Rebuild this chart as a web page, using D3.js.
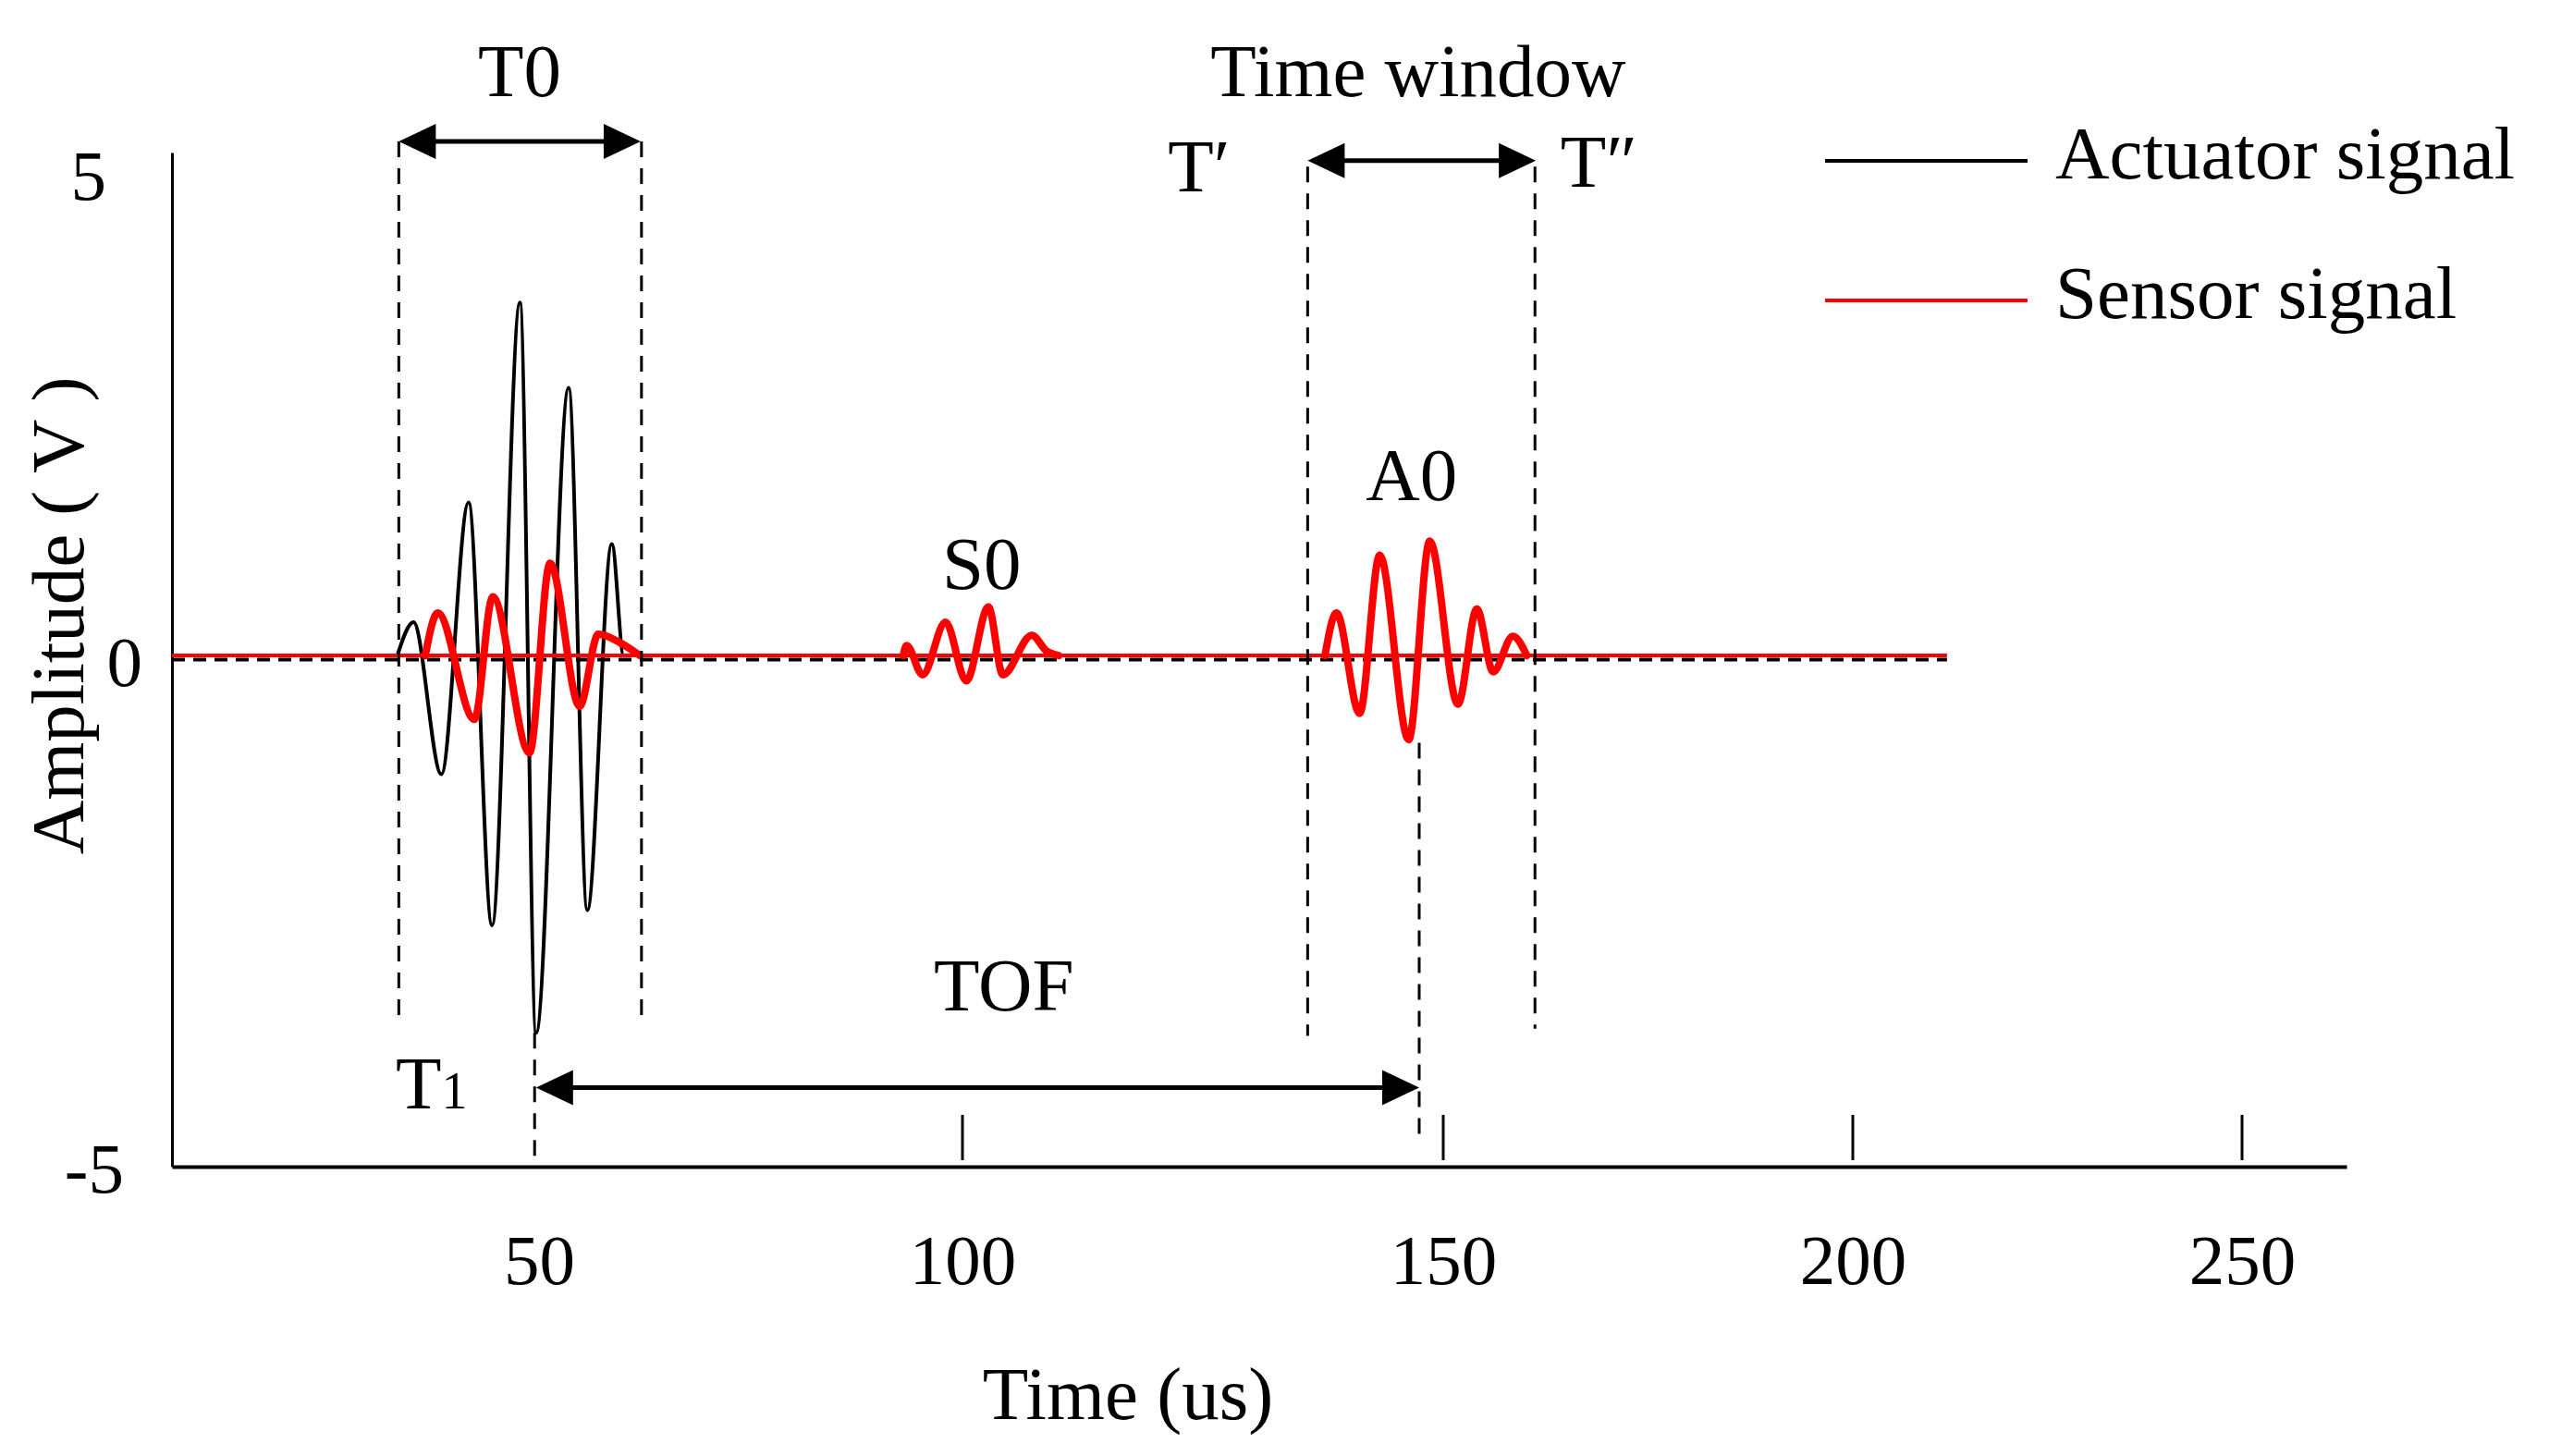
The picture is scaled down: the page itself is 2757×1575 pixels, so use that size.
<!DOCTYPE html>
<html>
<head>
<meta charset="utf-8">
<script src="https://cdn.jsdelivr.net/npm/d3@7"></script>
<style>
  body { margin: 0; background: #fff; }
  svg text { font-family: "Liberation Serif", "Times New Roman", serif; fill: #000; }
</style>
</head>
<body>
<script>
// Values: time in us, amplitude in V

const timeTicks = [50, 100, 150, 200, 250];
const timeTickMarks = [100, 150, 200, 250];   // no tick mark drawn at 50
const ampTicks = [-5, 0, 5];

// actuator: dashed zero line + the tone burst (extrema)
const actuatorBaseline = [[0, 0], [212.1, 0]];
const actuatorBurst = [
  [30.7, 0.04], [32.9, 0.37], [36.7, -1.13], [40.4, 1.55], [43.6, -2.62],
  [47.4, 3.52], [49.6, -3.68], [53.5, 2.68], [55.7, -2.47], [58.6, 1.14],
  [60.0, 0.04], [61.9, 0.04]
];

// sensor: thin baseline + three wave packets
const sensorBaseline = [[0, 0.04], [212.1, 0.04]];
const sensorDirect = [
  [34.5, 0.04], [36.2, 0.46], [41.2, -0.59], [43.7, 0.62], [48.7, -0.92],
  [51.3, 0.95], [54.8, -0.46], [57.0, 0.25], [59.5, 0.17], [61.9, 0.04]
];
const sensorS0 = [
  [93.0, 0.04], [93.4, 0.14], [95.3, -0.15], [98.0, 0.37], [100.4, -0.21],
  [102.7, 0.52], [104.2, -0.15], [107.2, 0.24], [108.8, 0.08], [110.0, 0.04]
];
const sensorA0 = [
  [137.7, 0.04], [138.9, 0.46], [141.3, -0.53], [143.4, 1.03], [146.4, -0.79],
  [148.6, 1.17], [151.8, -0.44], [154.1, 0.50], [156.1, -0.12], [158.5, 0.23],
  [160.2, 0.04]
];

// dashed time markers (t, from amplitude, to amplitude)
const markerTimes = [30.9, 62.1, 49.4, 135.9, 147.5, 161.2];
const markerTops = [5.11, 5.11, -3.68, 4.86, -0.82, 4.86];
const markerBottoms = [-3.55, -3.55, -4.94, -3.71, -4.78, -3.64];

// double arrows: T0, time window, TOF
const spanStarts = [30.9, 135.9, 49.6];
const spanEnds = [62.0, 161.3, 147.5];
const spanLevels = [5.11, 4.92, -4.22];

// annotation texts
const noteTexts = ['T0', 'Time window', 'T\u2032', 'T\u2033', 'S0', 'A0', 'TOF'];
const noteTimes = [47.35, 147.4, 124.6, 169.0, 102.0, 146.7, 104.3];
const noteAmps = [5.56, 5.56, 4.62, 4.66, 0.70, 1.57, -3.46];

const legendLabels = ['Actuator signal', 'Sensor signal'];
const legendColors = ['#000000', '#ff0000'];

// ---- layout ----
const width = 2757, height = 1575;
// the time axis of the figure is not evenly spaced, so the scale is piecewise
const timeKnots = [0, 50, 100, 150, 200, 250, 263];
const knotPx = [186, 583, 1041, 1561, 2004, 2425, 2538];
const labelSize = 81, tickSize = 77;

const svg = d3.select('body')
  .append('svg')
  .attr('width', width)
  .attr('height', height)
  .style('background', '#fff');

const x = d3.scaleLinear().domain(timeKnots).range(knotPx);
const y = d3.scaleLinear().domain([-5, 5]).range([1262, 165]);

// axes
const xAxis = svg.append('g')
  .attr('transform', `translate(0,${y(-5)})`)
  .call(d3.axisBottom(x).tickValues(timeTicks).tickSize(0).tickPadding(72));
xAxis.select('.domain').attr('stroke', '#000').attr('stroke-width', 4);
xAxis.selectAll('.tick text').style('font-size', tickSize + 'px');

svg.append('g')
  .selectAll('line')
  .data(timeTickMarks)
  .join('line')
  .attr('x1', d => x(d)).attr('x2', d => x(d))
  .attr('y1', y(-5) - 7).attr('y2', y(-5) - 56)
  .attr('stroke', '#000')
  .attr('stroke-width', 3);

const yAxis = svg.append('g')
  .attr('transform', `translate(${x(0)},0)`)
  .call(d3.axisLeft(y).tickValues(ampTicks).tickSize(0).tickPadding(52).tickFormat(d => String(d)));
yAxis.select('.domain').attr('stroke', '#000').attr('stroke-width', 3);
// the labels in the figure sit a little unevenly
yAxis.selectAll('.tick text')
  .style('font-size', tickSize + 'px')
  .attr('dx', d => d === 5 ? -19 : d === 0 ? 20 : 0)
  .attr('dy', d => d === 5 ? '0.66em' : '0.36em');

// axis titles
svg.append('text')
  .attr('x', 1220)
  .attr('y', 1535)
  .attr('text-anchor', 'middle')
  .style('font-size', labelSize + 'px')
  .text('Time (us)');

svg.append('text')
  .attr('transform', 'translate(90,666) rotate(-90)')
  .attr('text-anchor', 'middle')
  .style('font-size', labelSize + 'px')
  .text('Amplitude ( V )');

// signals
const line = d3.line()
  .x(d => x(d[0]))
  .y(d => y(d[1]))
  .curve(d3.curveMonotoneX);

svg.append('path')
  .datum(actuatorBaseline)
  .attr('d', line)
  .attr('fill', 'none')
  .attr('stroke', '#000')
  .attr('stroke-width', 4)
  .attr('stroke-dasharray', '14,9');

svg.append('path')
  .datum(actuatorBurst)
  .attr('d', line)
  .attr('fill', 'none')
  .attr('stroke', '#000')
  .attr('stroke-width', 4)
  .attr('stroke-linejoin', 'round');

svg.append('path')
  .datum(sensorBaseline)
  .attr('d', line)
  .attr('fill', 'none')
  .attr('stroke', '#ff0000')
  .attr('stroke-width', 4);

svg.selectAll('.packet')
  .data([sensorDirect, sensorS0, sensorA0])
  .join('path')
  .attr('class', 'packet')
  .attr('d', line)
  .attr('fill', 'none')
  .attr('stroke', '#ff0000')
  .attr('stroke-width', 8)
  .attr('stroke-linejoin', 'round')
  .attr('stroke-linecap', 'round');

// dashed markers
svg.append('g')
  .selectAll('line')
  .data(markerTimes)
  .join('line')
  .attr('x1', d => x(d)).attr('x2', d => x(d))
  .attr('y1', (d, i) => y(markerTops[i]))
  .attr('y2', (d, i) => y(markerBottoms[i]))
  .attr('stroke', '#000')
  .attr('stroke-width', 3)
  .attr('stroke-dasharray', '17,12');

// double arrows
const head = 40, half = 19;
const arrows = svg.append('g');
spanStarts.forEach((t0, i) => {
  const xa = x(t0), xb = x(spanEnds[i]), yy = y(spanLevels[i]);
  arrows.append('line')
    .attr('x1', xa + head - 2).attr('x2', xb - head + 2)
    .attr('y1', yy).attr('y2', yy)
    .attr('stroke', '#000')
    .attr('stroke-width', 5);
  arrows.append('path')
    .attr('d', `M${xa},${yy}L${xa + head},${yy - half}L${xa + head},${yy + half}Z`)
    .attr('fill', '#000');
  arrows.append('path')
    .attr('d', `M${xb},${yy}L${xb - head},${yy - half}L${xb - head},${yy + half}Z`)
    .attr('fill', '#000');
});

// annotation texts
svg.append('g')
  .selectAll('text')
  .data(noteTexts)
  .join('text')
  .attr('x', (d, i) => x(noteTimes[i]))
  .attr('y', (d, i) => y(noteAmps[i]))
  .attr('text-anchor', 'middle')
  .style('font-size', labelSize + 'px')
  .text(d => d);

const t1 = svg.append('text')
  .attr('x', x(30.48))
  .attr('y', y(-4.43))
  .style('font-size', labelSize + 'px');
t1.append('tspan').text('T');
t1.append('tspan').style('font-size', '56px').text('1');

// legend
const legend = svg.append('g')
  .selectAll('g')
  .data(legendLabels)
  .join('g')
  .attr('transform', (d, i) => `translate(1974,${174 + i * 151})`);

legend.append('line')
  .attr('x1', 0).attr('x2', 219)
  .attr('stroke', (d, i) => legendColors[i])
  .attr('stroke-width', 4);

legend.append('text')
  .attr('x', 249)
  .attr('y', 19)
  .style('font-size', labelSize + 'px')
  .text(d => d);
</script>
</body>
</html>
